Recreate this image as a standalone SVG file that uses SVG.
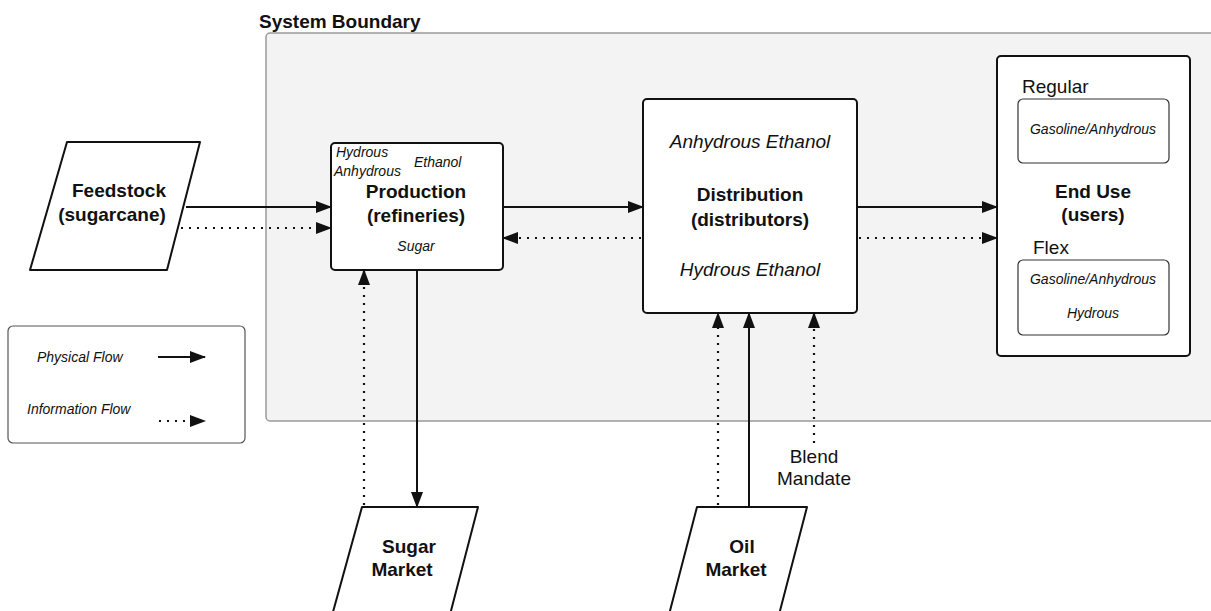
<svg xmlns="http://www.w3.org/2000/svg" width="1211" height="611" viewBox="0 0 1211 611">
<style>
text{font-family:"Liberation Sans",Arial,sans-serif;fill:#111}
.b{font-weight:bold;font-size:19px;text-anchor:middle}
.i{font-style:italic;font-size:14px}
.im{font-style:italic;font-size:19px;text-anchor:middle}
.r{font-size:19px}
.box{fill:#fff;stroke:#111;stroke-width:2}
.sub{fill:#fff;stroke:#333;stroke-width:1.2}
.solid{stroke:#111;stroke-width:2;fill:none}
.dot{stroke:#111;stroke-width:2.2;fill:none;stroke-dasharray:2 6}
</style>
<defs>
<marker id="ah" markerWidth="16" markerHeight="12" refX="15" refY="6" orient="auto" markerUnits="userSpaceOnUse">
<path d="M0,0 L16,6 L0,12 Z" fill="#111"/>
</marker>
</defs>
<rect width="1211" height="611" fill="#fff"/>
<g id="boundary">
<rect x="266" y="33" width="950" height="388" rx="4" fill="#f3f3f3" stroke="#9a9a9a" stroke-width="1.5"/>
<text x="259" y="28" style="font-weight:bold;font-size:19px">System Boundary</text>
</g>
<g id="feedstock">
<path class="box" d="M67,142 L200,142 L167,270 L30,270 Z" stroke-linejoin="round"/>
<text class="b" x="119" y="197">Feedstock</text>
<text class="b" x="112" y="221">(sugarcane)</text>
</g>
<g id="production">
<rect class="box" x="331" y="143" width="172" height="127" rx="4"/>
<text class="i" x="336" y="157">Hydrous</text>
<text class="i" x="334" y="176">Anhydrous</text>
<text class="i" x="414" y="167">Ethanol</text>
<text class="b" x="416" y="198">Production</text>
<text class="b" x="416" y="222">(refineries)</text>
<text class="i" x="416" y="251" text-anchor="middle">Sugar</text>
</g>
<g id="distribution">
<rect class="box" x="643" y="99" width="214" height="214" rx="4"/>
<text class="im" x="750" y="148">Anhydrous Ethanol</text>
<text class="b" x="750" y="201">Distribution</text>
<text class="b" x="750" y="226">(distributors)</text>
<text class="im" x="750" y="276">Hydrous Ethanol</text>
</g>
<g id="enduse">
<rect class="box" x="997" y="56" width="193" height="300" rx="4"/>
<text class="r" x="1022" y="93">Regular</text>
<rect class="sub" x="1018" y="99" width="151" height="64" rx="5"/>
<text class="i" x="1093" y="134" text-anchor="middle">Gasoline/Anhydrous</text>
<text class="b" x="1093" y="198">End Use</text>
<text class="b" x="1093" y="221">(users)</text>
<text class="r" x="1033" y="254">Flex</text>
<rect class="sub" x="1018" y="260" width="151" height="75" rx="5"/>
<text class="i" x="1093" y="284" text-anchor="middle">Gasoline/Anhydrous</text>
<text class="i" x="1093" y="318" text-anchor="middle">Hydrous</text>
</g>
<g id="sugarmarket">
<path class="box" d="M362,507 L478,507 L446,630 L328,630 Z" stroke-linejoin="round"/>
<text class="b" x="409" y="553">Sugar</text>
<text class="b" x="402" y="576">Market</text>
</g>
<g id="oilmarket">
<path class="box" d="M697,507 L807,507 L775,630 L665,630 Z" stroke-linejoin="round"/>
<text class="b" x="742" y="553">Oil</text>
<text class="b" x="736" y="576">Market</text>
</g>
<g id="blendmandate">
<text class="r" x="814" y="463" text-anchor="middle">Blend</text>
<text class="r" x="814" y="485" text-anchor="middle">Mandate</text>
</g>
<g id="legend">
<rect x="8" y="326" width="237" height="117" rx="5" fill="#fff" stroke="#555" stroke-width="1.2"/>
<text class="i" x="37" y="362">Physical Flow</text>
<text class="i" x="27" y="414">Information Flow</text>
<line class="solid" x1="158" y1="357" x2="205" y2="357" marker-end="url(#ah)"/>
<line class="dot" x1="159" y1="421" x2="205" y2="421" marker-end="url(#ah)"/>
</g>
<g id="connectors">
<line class="solid" x1="186" y1="207" x2="331" y2="207" marker-end="url(#ah)"/>
<line class="dot" x1="181" y1="228" x2="331" y2="228" marker-end="url(#ah)"/>
<line class="solid" x1="503" y1="207" x2="643" y2="207" marker-end="url(#ah)"/>
<line class="dot" x1="641" y1="238" x2="503" y2="238" marker-end="url(#ah)"/>
<line class="solid" x1="857" y1="207" x2="997" y2="207" marker-end="url(#ah)"/>
<line class="dot" x1="859" y1="238" x2="997" y2="238" marker-end="url(#ah)"/>
<line class="solid" x1="417" y1="270" x2="417" y2="507" marker-end="url(#ah)"/>
<line class="dot" x1="364" y1="505" x2="364" y2="270" marker-end="url(#ah)"/>
<line class="dot" x1="718" y1="505" x2="718" y2="313" marker-end="url(#ah)"/>
<line class="solid" x1="749" y1="507" x2="749" y2="313" marker-end="url(#ah)"/>
<line class="dot" x1="814" y1="443" x2="814" y2="313" marker-end="url(#ah)"/>
</g>
</svg>
